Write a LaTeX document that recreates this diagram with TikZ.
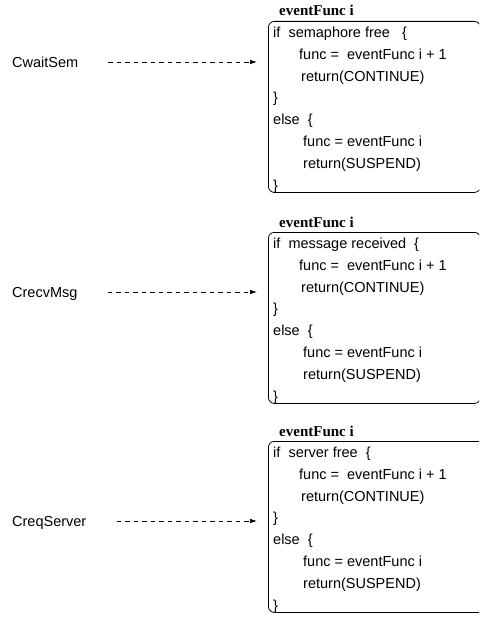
\documentclass[tikz,border=0pt]{standalone}
\usepackage{fontspec}
\setmainfont{Liberation Sans}
\newfontfamily\titlefont{Liberation Serif}
\usetikzlibrary{arrows.meta}

\tikzset{
  codebox/.style={draw, rounded corners=6pt, line width=0.8pt, anchor=north west,
    inner sep=0pt, minimum height=171pt},
  functitle/.style={anchor=base west, inner sep=0pt,
    font=\titlefont\bfseries\fontsize{15}{15}\selectfont},
  codeline/.style={anchor=west, inner sep=0pt, text height=10.5pt, text depth=0pt,
    font=\fontsize{14.5}{14.5}\selectfont},
  call/.style={line width=0.7pt, dash pattern=on 4.5pt off 4pt,
    -{Latex[length=7pt,width=4.5pt]}, shorten >=11pt},
}

% #1 name prefix, #2 top of the box, #3 box width, #4 test of the if
\newcommand\eventblock[4]{%
  \node[codebox, minimum width=#3] (#1box) at (268,#2) {};
  \node[functitle] (#1title) at (279,#2-5) {eventFunc i};
  \node[codeline] (#1a) at (273,#2+11)    {#4};
  \node[codeline] (#1b) at (299,#2+32.9)  {func =\ \ eventFunc i + 1};
  \node[codeline] (#1c) at (301,#2+54.8)  {return(CONTINUE)};
  \node[codeline] (#1d) at (273,#2+76.7)  {\}};
  \node[codeline] (#1e) at (273,#2+98.6)  {else\ \ \{};
  \node[codeline] (#1f) at (303,#2+120.5) {func = eventFunc i};
  \node[codeline] (#1g) at (303,#2+142.4) {return(SUSPEND)};
  \node[codeline] (#1h) at (273,#2+164.3) {\}};
}

\begin{document}
\begin{tikzpicture}[x=1pt, y=-1pt]
  \useasboundingbox (0,0) rectangle (479,623);
  \clip (0,0) rectangle (479,623);

  \eventblock{sem}{21}{212pt}{if\ \ semaphore free\ \ \ \{}
  \eventblock{msg}{232}{212pt}{if\ \ message received\ \ \{}
  \eventblock{srv}{441}{240pt}{if\ \ server free\ \ \{}

  \node[codeline] (wait) at (12,62)  {CwaitSem};
  \node[codeline] (recv) at (12,292) {CrecvMsg};
  \node[codeline] (req)  at (12,521) {CreqServer};

  \draw[call] ([xshift=30pt]wait.east) -- (wait.east -| sembox.west);
  \draw[call] ([xshift=30pt]recv.east) -- (recv.east -| msgbox.west);
  \draw[call] ([xshift=30pt]req.east)  -- (req.east  -| srvbox.west);
\end{tikzpicture}
\end{document}
